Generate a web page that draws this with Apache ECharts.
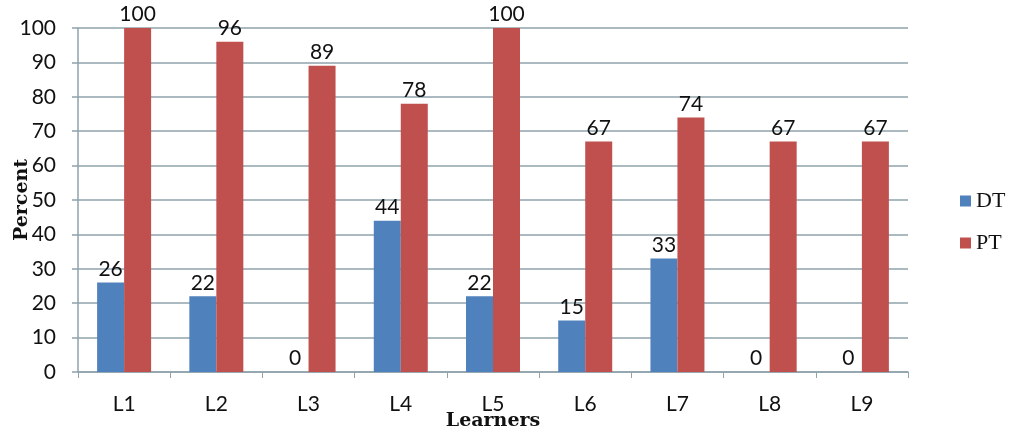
<!DOCTYPE html>
<html><head><meta charset="utf-8">
<script src="https://cdn.jsdelivr.net/npm/echarts@6/dist/echarts.min.js"></script>
<style>html,body{margin:0;padding:0;background:#fff}#c{width:1012px;height:431px}</style>
</head><body><div id="c"></div>
<script>
const categories = ['L1','L2','L3','L4','L5','L6','L7','L8','L9'];
const dtValues = [26,22,0,44,22,15,33,0,0];
const ptValues = [100,96,89,78,100,67,74,67,67];
const yTicks = [0,10,20,30,40,50,60,70,80,90,100];

const chart = echarts.init(document.getElementById('c'));
const labelStyle = {show:true, position:'top', distance:3, fontFamily:'Lato', fontSize:21, color:'#111'};
chart.setOption({
  animation:false,
  grid:{left:78, right:104, top:28, bottom:59, outerBoundsMode:'none', containLabel:false},
  legend:{
    orient:'vertical', left:955, top:185, itemWidth:11, itemHeight:11, itemGap:20,
    icon:'rect',
    textStyle:{fontFamily:'Liberation Serif', fontSize:22, color:'#111'},
    data:['DT','PT']
  },
  xAxis:{
    type:'category', data:categories,
    name:'Learners', nameLocation:'middle', nameGap:40, nameMoveOverlap:false,
    nameTextStyle:{fontFamily:'DejaVu Serif', fontWeight:'bold', fontSize:19, color:'#111'},
    axisLine:{lineStyle:{color:'#8fa3ad', width:1.5}},
    axisTick:{show:true, length:6, lineStyle:{color:'#8fa3ad'}},
    axisLabel:{fontFamily:'Lato', fontSize:21, color:'#111', margin:22}
  },
  yAxis:{
    type:'value', min:0, max:100, interval:10,
    name:'Percent', nameLocation:'middle', nameGap:46, nameRotate:90, nameMoveOverlap:false,
    nameTextStyle:{fontFamily:'DejaVu Serif', fontWeight:'bold', fontSize:19, color:'#111'},
    axisLine:{show:true, lineStyle:{color:'#8fa3ad', width:1.5}},
    axisTick:{show:true, length:6, inside:false, lineStyle:{color:'#8fa3ad', width:1.5}},
    axisLabel:{fontFamily:'Lato', fontSize:21, color:'#111', margin:22,
      formatter:v=>yTicks.includes(v)?String(v):''},
    splitLine:{lineStyle:{color:'#8fa3ad', width:1.5}}
  },
  series:[
    {name:'DT', type:'bar', data:dtValues, barWidth:27, barGap:'0%',
     itemStyle:{color:'#4f81bd'}, label:labelStyle},
    {name:'PT', type:'bar', data:ptValues, barWidth:27, barGap:'0%',
     itemStyle:{color:'#c0504d'}, label:labelStyle}
  ]
});
</script></body></html>
